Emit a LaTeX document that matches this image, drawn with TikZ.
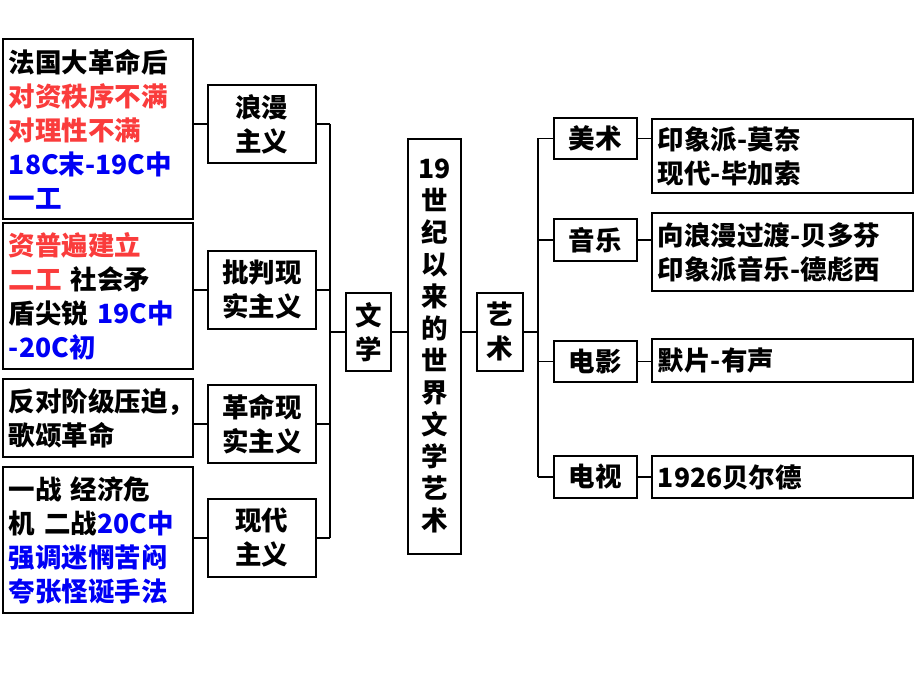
\documentclass[tikz,border=0pt]{standalone}
\usepackage{fontspec}
\setmainfont{Noto Sans CJK SC}
\begin{document}
\begin{tikzpicture}[x=1pt,y=-1pt,
  box/.style={draw=black,line width=1.8pt,inner xsep=6pt,inner ysep=2pt,anchor=north west,font=\bfseries\fontsize{26.5}{34}\selectfont},
  ln/.style={line width=1.8pt}]
\definecolor{rd}{RGB}{250,60,60}
\definecolor{bl}{RGB}{0,0,245}
\useasboundingbox (0,0) rectangle (920,690);
\def\bx#1#2#3#4#5#6{\node[box,minimum width=#4-#2,minimum height=#5-#3,text width=#4-#2-12,align=#6] (#1) at (#2,#3)}
% left boxes
\bx{a1}{2}{38}{192}{218}{left}{法国大革命后\\\textcolor{rd}{对资秩序不满}\\\textcolor{rd}{对理性不满}\\\textcolor{bl}{18C末-19C中}\\\textcolor{bl}{一工}};
\bx{a2}{2}{222}{192}{368}{left}{\textcolor{rd}{资普遍建立}\\\textcolor{rd}{二工} 社会矛\\盾尖锐 \textcolor{bl}{19C中}\\\textcolor{bl}{-20C初}};
\bx{a3}{2}{378}{192}{456}{left}{反对阶级压迫，\\歌颂革命};
\bx{a4}{2}{466}{192}{612}{left}{一战 经济危\\机 二战\textcolor{bl}{20C中}\\\textcolor{bl}{强调迷惘苦闷}\\\textcolor{bl}{夸张怪诞手法}};
% second column
\bx{b1}{207}{84}{315}{162}{center}{浪漫\\主义};
\bx{b2}{207}{250}{315}{328}{center}{批判现\\实主义};
\bx{b3}{207}{384}{315}{462}{center}{革命现\\实主义};
\bx{b4}{207}{498}{315}{576}{center}{现代\\主义};
\bx{wx}{345}{292}{390}{370}{center}{文\\学};
\node[box,minimum width=53,minimum height=415,text width=45,inner xsep=4pt,align=center,font=\bfseries\fontsize{26.5}{32}\selectfont] (c) at (407,138) {19\\世\\纪\\以\\来\\的\\世\\界\\文\\学\\艺\\术};
\bx{ys}{476}{292}{522}{370}{center}{艺\\术};
\bx{d1}{553}{117}{636}{158}{center}{美术};
\bx{d2}{553}{218}{636}{260}{center}{音乐};
\bx{d3}{553}{340}{636}{381}{center}{电影};
\bx{d4}{553}{455}{636}{497}{center}{电视};
\bx{e1}{651}{118}{912}{192}{left}{印象派-莫奈\\现代-毕加索};
\bx{e2}{651}{212}{912}{290}{left}{向浪漫过渡-贝多芬\\印象派音乐-德彪西};
\bx{e3}{651}{338}{912}{381}{left}{默片-有声};
\bx{e4}{651}{455}{912}{497}{left}{1926贝尔德};
% connectors
\coordinate (busL) at (330,0);
\coordinate (busR) at (538,0);
\foreach \i in {1,2,3,4}{
  \draw[ln] (b\i.west) -- (b\i.west -| a\i.east);
  \draw[ln] (b\i.east) -- (b\i.east -| busL);
  \draw[ln] (d\i.west) -- (d\i.west -| busR);
  \draw[ln] (d\i.east) -- (d\i.east -| e\i.west);
}
\draw[ln] (b1.east -| busL) -- (b4.east -| busL);
\draw[ln] (wx.west) -- (wx.west -| busL);
\draw[ln] (wx.east) -- (wx.east -| c.west);
\draw[ln] (c.east |- ys.west) -- (ys.west);
\draw[ln] (d1.west -| busR) -- (d4.west -| busR);
\draw[ln] (ys.east) -- (ys.east -| busR);
\end{tikzpicture}
\end{document}
